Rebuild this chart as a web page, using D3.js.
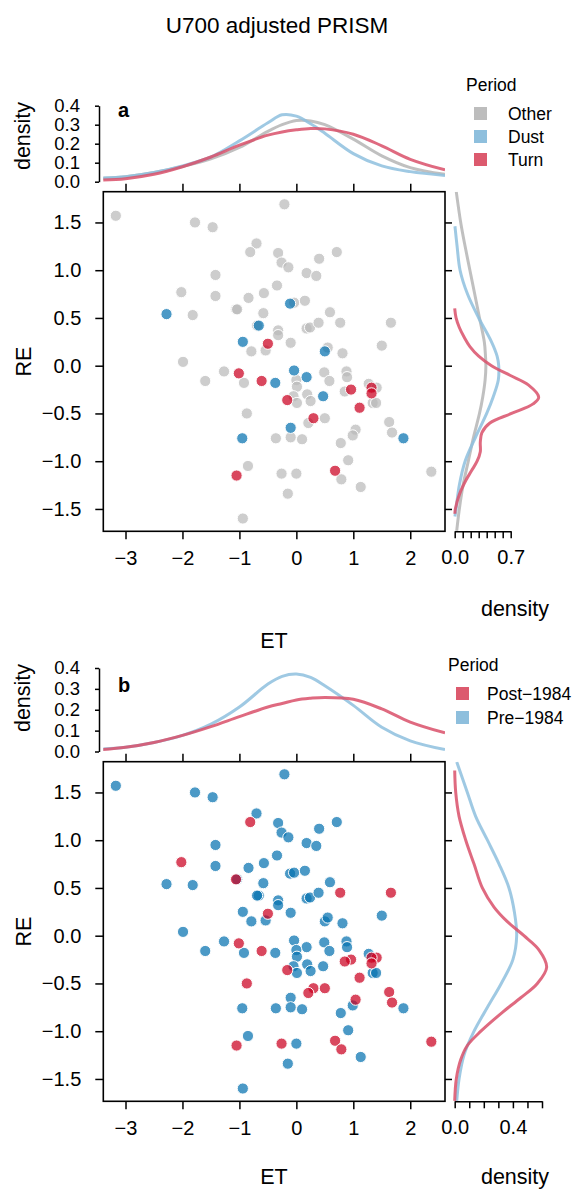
<!DOCTYPE html>
<html>
<head>
<meta charset="utf-8">
<script src="https://cdn.jsdelivr.net/npm/d3@7"></script>
<style>
  body { margin: 0; background: #fff; }
  text { font-family: "Liberation Sans", Arial, sans-serif; fill: #000; }
</style>
</head>
<body>
<div id="chart"></div>
<script>
// ---- point data (ET, RE, period class, era) ----
const et = [-3.17,-0.21,-1.78,-1.47,-0.70,-0.81,-0.32,-0.26,-0.14,0.40,0.71,0.18,0.35,-1.42,-0.34,-2.02,-1.42,-0.57,-0.84,
  -0.11,-0.04,0.15,-2.28,-1.82,-1.06,-1.04,-0.58,0.59,0.77,1.66,-0.66,-0.69,0.18,0.24,0.39,-0.32,-0.32,-0.94,-0.50,-0.54,
  -0.79,-0.10,0.50,0.55,0.81,1.50,-1.99,-1.27,-1.01,-1.60,-0.92,-0.61,-0.37,-0.04,0.18,0.00,0.01,0.49,0.58,0.88,0.89,
  0.96,0.85,1.27,1.41,1.32,1.32,1.34,1.40,0.47,0.19,-0.16,-0.05,0.01,0.25,1.11,-0.87,0.30,0.21,0.50,1.63,1.68,1.88,
  -0.10,-0.95,-0.36,-0.10,0.10,1.04,0.99,0.78,0.91,-0.85,-1.05,-0.26,0.00,0.68,0.79,1.13,2.37,-0.15,-0.94];
const re = [1.57,1.69,1.50,1.45,1.28,1.19,1.18,1.08,1.03,1.12,1.19,0.97,0.94,0.95,0.84,0.77,0.73,0.76,0.71,
  0.65,0.66,0.68,0.54,0.53,0.59,0.59,0.55,0.56,0.45,0.45,0.42,0.42,0.39,0.40,0.45,0.37,0.32,0.25,0.23,0.16,
  0.15,0.24,0.15,0.19,0.13,0.21,0.04,-0.06,-0.08,-0.16,-0.18,-0.16,-0.18,-0.05,-0.12,-0.15,-0.22,-0.07,-0.16,-0.06,-0.12,
  -0.25,-0.27,-0.19,-0.23,-0.23,-0.29,-0.39,-0.39,-0.32,-0.30,-0.36,-0.32,-0.39,-0.37,-0.44,-0.50,-0.55,-0.60,-0.55,-0.59,-0.70,-0.76,
  -0.65,-0.76,-0.76,-0.75,-0.77,-0.67,-0.73,-0.81,-0.99,-1.05,-1.15,-1.13,-1.13,-1.10,-1.19,-1.27,-1.11,-1.34,-1.60];
const period = ["Other","Other","Other","Other","Other","Other","Other","Other","Other","Other","Other","Other","Other","Other","Other","Other","Other","Other","Other",
  "Dust","Other","Other","Dust","Other","Other","Other","Other","Other","Other","Other","Dust","Other","Other","Other","Other","Other","Other","Dust","Turn","Other",
  "Other","Other","Dust","Other","Other","Other","Other","Other","Turn","Other","Other","Turn","Dust","Dust","Dust","Other","Other","Other","Other","Other","Other",
  "Turn","Other","Other","Other","Turn","Turn","Other","Other","Dust","Other","Turn","Other","Other","Other","Turn","Other","Turn","Other","Other","Other","Other","Dust",
  "Dust","Dust","Other","Other","Other","Other","Other","Other","Other","Other","Turn","Other","Other","Turn","Other","Other","Other","Other","Other"];
const era = ["Pre","Pre","Pre","Pre","Pre","Post","Pre","Pre","Pre","Pre","Pre","Pre","Pre","Pre","Pre","Post","Pre","Pre","Pre",
  "Pre","Pre","Pre","Pre","Pre","Post","Pre","Pre","Pre","Post","Post","Pre","Pre","Pre","Pre","Pre","Pre","Pre","Pre","Post","Pre",
  "Pre","Pre","Pre","Pre","Pre","Pre","Pre","Pre","Post","Pre","Pre","Post","Pre","Pre","Pre","Pre","Pre","Pre","Pre","Pre","Pre",
  "Post","Post","Pre","Post","Post","Post","Pre","Pre","Pre","Pre","Post","Pre","Pre","Pre","Post","Post","Post","Post","Post","Post","Post","Pre",
  "Pre","Pre","Pre","Pre","Pre","Post","Pre","Pre","Pre","Pre","Post","Post","Pre","Post","Post","Pre","Post","Pre","Pre"];

// ---- marginal densities ----
const etGrid = [-3.4,-3,-2.5,-2,-1.5,-1,-0.5,-0.25,0,0.25,0.5,1,1.5,2,2.61];
const etOther = [0.018,0.026,0.048,0.080,0.120,0.180,0.265,0.300,0.322,0.320,0.300,0.224,0.136,0.074,0.039];
const etDust  = [0.020,0.026,0.048,0.083,0.130,0.215,0.310,0.352,0.345,0.305,0.255,0.148,0.083,0.053,0.033];
const etTurn  = [0.009,0.016,0.039,0.079,0.130,0.192,0.245,0.262,0.273,0.280,0.278,0.250,0.189,0.118,0.062];
const etPre   = [0.012,0.020,0.043,0.077,0.131,0.213,0.323,0.360,0.371,0.355,0.315,0.221,0.116,0.051,0.009];
const etPost  = [0.009,0.020,0.043,0.077,0.119,0.167,0.213,0.230,0.247,0.255,0.259,0.250,0.204,0.141,0.089];

const reOtherY = [1.82,1.5,1.25,1.0,0.75,0.5,0.25,0.1,0,-0.15,-0.33,-0.5,-0.75,-1.0,-1.25,-1.5,-1.73];
const reOtherD = [0.020,0.075,0.130,0.190,0.250,0.310,0.370,0.385,0.390,0.380,0.350,0.310,0.235,0.170,0.105,0.058,0.025];
const reDustY = [1.46,1.25,1.0,0.75,0.5,0.25,0.1,0,-0.15,-0.33,-0.5,-0.75,-1.0,-1.25,-1.5,-1.58];
const reDustD = [0.003,0.030,0.067,0.160,0.300,0.460,0.530,0.550,0.545,0.480,0.400,0.260,0.130,0.058,0.017,0.003];
const reTurnY = [0.6,0.5,0.4,0.3,0.2,0.1,0,-0.1,-0.2,-0.33,-0.4,-0.5,-0.6,-0.7,-0.8,-0.9,-1.0,-1.1,-1.2,-1.35,-1.5,-1.55];
const reTurnD = [0.000,0.017,0.058,0.117,0.190,0.300,0.460,0.690,0.920,1.050,0.980,0.710,0.440,0.340,0.320,0.320,0.280,0.210,0.140,0.058,0.008,0.002];
const rePreY = [1.82,1.5,1.25,1.0,0.75,0.5,0.25,0,-0.25,-0.5,-0.75,-1.0,-1.25,-1.5,-1.73];
const rePreD = [0.014,0.087,0.144,0.225,0.305,0.373,0.410,0.426,0.400,0.320,0.225,0.133,0.064,0.030,0.014];
const rePostY = [1.73,1.5,1.25,1.0,0.75,0.5,0.3,0.15,0,-0.15,-0.33,-0.5,-0.65,-0.8,-1.0,-1.15,-1.3,-1.5,-1.73];
const rePostD = [0.000,0.007,0.030,0.076,0.133,0.190,0.270,0.360,0.476,0.580,0.632,0.568,0.454,0.330,0.180,0.087,0.041,0.011,0.000];

const xTicks = [-3,-2,-1,0,1,2];
const yTicks = [-1.5,-1,-0.5,0,0.5,1,1.5];
const densTicks = [0,0.1,0.2,0.3,0.4];

const svg = d3.select("#chart").append("svg")
  .attr("width", 574).attr("height", 1189);

svg.append("text")
  .attr("x", 277).attr("y", 33)
  .attr("text-anchor", "middle")
  .style("font-size", "22.5px")
  .text("U700 adjusted PRISM");

const tickFont = "20px";
const labFont = "21.5px";

function styleAxis(g, size) {
  g.attr("font-family", null).attr("font-size", null);
  g.selectAll("text").style("font-size", size || tickFont);
  g.selectAll("line, path").attr("stroke", "#000").attr("stroke-width", 1.5);
}

function drawPanel(cfg) {
  const off = cfg.off;
  const g = svg.append("g").attr("transform", `translate(0,${off})`);

  const x = d3.scaleLinear().domain([-3.39, 2.61]).range([103.3, 445]);
  const y = d3.scaleLinear().domain([-1.734, 1.822]).range([531.3, 191.7]);
  const dy = d3.scaleLinear().domain([0, 0.4]).range(cfg.dyRange);
  const dxMax = cfg.dxTicks[cfg.dxTicks.length - 1];
  const dx = d3.scaleLinear().domain([0, dxMax]).range([454.7, 454.7 + cfg.dxStep * dxMax * 10]);

  // clip paths
  g.append("clipPath").attr("id", "ctop" + cfg.tag)
    .append("rect").attr("x", 103.3).attr("y", 60).attr("width", 341.7).attr("height", 130);
  g.append("clipPath").attr("id", "cside" + cfg.tag)
    .append("rect").attr("x", 447).attr("y", 191.7).attr("width", 127).attr("height", 339.6);

  // scatter points
  const idx = d3.range(et.length).sort((a, b) => cfg.order(a) - cfg.order(b));
  g.append("g").selectAll("circle")
    .data(idx)
    .enter().append("circle")
    .attr("cx", i => x(et[i]))
    .attr("cy", i => y(re[i]))
    .attr("r", 5.6)
    .attr("fill", i => cfg.pointColor(i))
    .attr("fill-opacity", 0.72)
    .attr("stroke", "#fff")
    .attr("stroke-width", 1);

  // box + axes
  g.append("rect")
    .attr("x", 103.3).attr("y", 191.7).attr("width", 341.7).attr("height", 339.6)
    .attr("fill", "none").attr("stroke", "#000").attr("stroke-width", 1.6);

  g.append("g").attr("transform", "translate(0,531.3)")
    .call(d3.axisBottom(x).tickValues(xTicks).tickSize(8).tickSizeOuter(0).tickPadding(12)
      .tickFormat(d3.format("d")))
    .call(a => styleAxis(a)).call(a => a.select(".domain").remove());
  g.append("g").attr("transform", "translate(0,191.7)")
    .call(d3.axisTop(x).tickValues(xTicks).tickSize(8).tickFormat(""))
    .call(a => styleAxis(a)).call(a => a.select(".domain").remove());
  g.append("g").attr("transform", "translate(103.3,0)")
    .call(d3.axisLeft(y).tickValues(yTicks).tickSize(8).tickPadding(14)
      .tickFormat(d3.format(".1f")))
    .call(a => styleAxis(a)).call(a => a.select(".domain").remove());
  g.append("g").attr("transform", "translate(445,0)")
    .call(d3.axisRight(y).tickValues(yTicks).tickSize(7).tickFormat(""))
    .call(a => styleAxis(a)).call(a => a.select(".domain").remove());

  // top marginal density
  g.append("g").attr("transform", "translate(99,0)")
    .call(d3.axisLeft(dy).tickValues(densTicks).tickSize(4).tickSizeOuter(0).tickPadding(15)
      .tickFormat(d3.format(".1f")))
    .call(a => styleAxis(a, "18.5px"));

  const topLine = d3.line()
    .x((d, i) => x(etGrid[i]))
    .y(d => dy(d))
    .curve(d3.curveCatmullRom);
  const topG = g.append("g").attr("clip-path", `url(#ctop${cfg.tag})`);
  cfg.series.forEach(s => {
    topG.append("path")
      .attr("d", topLine(s.et))
      .attr("fill", "none")
      .attr("stroke", s.line)
      .attr("stroke-width", 3)
      .attr("stroke-opacity", 0.85);
  });

  // side marginal density
  g.append("g").attr("transform", "translate(0,531.3)")
    .call(d3.axisBottom(dx).tickValues(cfg.dxTicks).tickSize(7).tickSizeOuter(0).tickPadding(12)
      .tickFormat(d => (Math.abs(d) < 1e-9 || Math.abs(d - cfg.dxLabel) < 1e-9) ? d3.format(".1f")(d) : ""))
    .call(a => styleAxis(a));

  const sideG = g.append("g").attr("clip-path", `url(#cside${cfg.tag})`);
  cfg.series.forEach(s => {
    const line = d3.line()
      .x(d => dx(d))
      .y((d, i) => y(s.reY[i]))
      .curve(d3.curveCatmullRom);
    sideG.append("path")
      .attr("d", line(s.reD))
      .attr("fill", "none")
      .attr("stroke", s.line)
      .attr("stroke-width", 3)
      .attr("stroke-opacity", 0.85);
  });

  // labels (absolute page positions)
  svg.append("text").attr("x", 118).attr("y", cfg.tagY)
    .style("font-size", "20px").style("font-weight", "bold").text(cfg.tag);
  svg.append("text").attr("transform", `translate(30,${cfg.densLabY}) rotate(-90)`)
    .attr("text-anchor", "middle").style("font-size", labFont).text("density");
  svg.append("text").attr("transform", `translate(31,${361.5 + off}) rotate(-90)`)
    .attr("text-anchor", "middle").style("font-size", labFont).text("RE");
  svg.append("text").attr("x", 274).attr("y", cfg.etLabY)
    .attr("text-anchor", "middle").style("font-size", labFont).text("ET");
  svg.append("text").attr("x", 515).attr("y", cfg.sideLabY)
    .attr("text-anchor", "middle").style("font-size", labFont).text("density");

  // legend
  const lg = svg.append("g");
  lg.append("text").attr("x", cfg.legX).attr("y", cfg.legY + 6)
    .style("font-size", "17.5px").text("Period");
  cfg.legend.forEach((l, i) => {
    const cy = cfg.legY + 28.5 + i * cfg.legStep;
    lg.append("rect")
      .attr("x", cfg.legX + 8).attr("y", cy - 6.5)
      .attr("width", 13).attr("height", 13)
      .attr("fill", l.color);
    lg.append("text").attr("x", cfg.legX + cfg.legTextDx).attr("y", cy + 6.5)
      .style("font-size", "17.5px").text(l.name);
  });
}

const grey = "#bababa", blue = "#0571b0", red = "#ca0020";
const greyLine = "#b5b5b5", blueLine = "#8ec0de", redLine = "#d9506a";

drawPanel({
  tag: "a", off: 0, dyRange: [181.7, 105.7],
  tagY: 117, densLabY: 136, etLabY: 648, sideLabY: 616,
  order: i => ({ Other: 0, Dust: 1, Turn: 2 })[period[i]],
  pointColor: i => ({ Other: grey, Dust: blue, Turn: red })[period[i]],
  series: [
    { et: etOther, reY: reOtherY, reD: reOtherD, line: greyLine },
    { et: etDust, reY: reDustY, reD: reDustD, line: blueLine },
    { et: etTurn, reY: reTurnY, reD: reTurnD, line: redLine }
  ],
  dxStep: 8, dxTicks: [0,0.1,0.2,0.3,0.4,0.5,0.6,0.7], dxLabel: 0.7,
  legX: 466, legY: 85, legStep: 23, legTextDx: 42,
  legend: [
    { name: "Other", color: "#bdbdbd" },
    { name: "Dust", color: "#8ebfdd" },
    { name: "Turn", color: "#dc5a6e" }
  ]
});

drawPanel({
  tag: "b", off: 570, dyRange: [181.5, 98],
  tagY: 692, densLabY: 698, etLabY: 1184, sideLabY: 1184,
  order: i => era[i] === "Pre" ? 0 : 1,
  pointColor: i => era[i] === "Pre" ? blue : red,
  series: [
    { et: etPre, reY: rePreY, reD: rePreD, line: blueLine },
    { et: etPost, reY: rePostY, reD: rePostD, line: redLine }
  ],
  dxStep: 14.55, dxTicks: [0,0.1,0.2,0.3,0.4,0.5,0.6], dxLabel: 0.4,
  legX: 448, legY: 665, legStep: 24, legTextDx: 39,
  legend: [
    { name: "Post\u22121984", color: "#dc5a6e" },
    { name: "Pre\u22121984", color: "#8ebfdd" }
  ]
});
</script>
</body>
</html>
